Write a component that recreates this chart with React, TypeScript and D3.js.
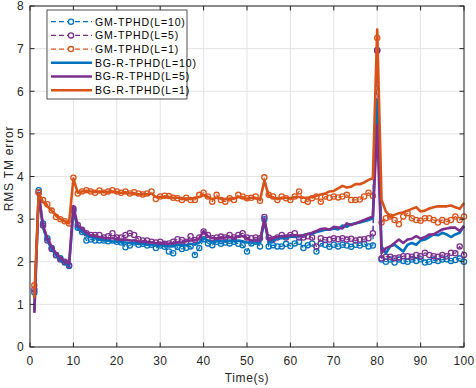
import React from "react";
import * as d3 from "d3";

// time axis 1..100 s, one value per second
const xTicks = [0, 10, 20, 30, 40, 50, 60, 70, 80, 90, 100];
const yTicks = [0, 1, 2, 3, 4, 5, 6, 7, 8];

const gmL10 = [
  1.28, 3.68, 2.9, 2.55, 2.32, 2.16, 2.08, 1.98, 1.9, 3.2,
  2.8, 2.7, 2.5, 2.52, 2.5, 2.5, 2.5, 2.48, 2.5, 2.47,
  2.45, 2.34, 2.38, 2.45, 2.4, 2.42, 2.38, 2.4, 2.32, 2.38,
  2.35, 2.24, 2.2, 2.35, 2.3, 2.33, 2.36, 2.16, 2.32, 2.53,
  2.43, 2.39, 2.47, 2.42, 2.45, 2.43, 2.47, 2.42, 2.39, 2.24,
  2.43, 2.47, 2.36, 3.0, 2.36, 2.39, 2.36, 2.36, 2.42, 2.37,
  2.43, 2.47, 2.32, 2.39, 2.43, 2.24, 2.43, 2.4, 2.35, 2.4,
  2.36, 2.4, 2.38, 2.35, 2.4, 2.38, 2.42, 2.36, 2.38, 6.97,
  2.05, 2.0, 2.05, 1.98, 2.05, 2.02, 2.0, 2.05, 2.02, 2.06,
  1.98, 2.0, 2.04, 2.02, 2.05, 2.06, 2.02, 2.04, 2.08, 2.0,
];

const gmL5 = [
  1.35, 3.62, 2.85, 2.5, 2.3, 2.15, 2.05, 2.0, 1.92, 3.25,
  2.86, 2.75, 2.67, 2.63, 2.63, 2.63, 2.57, 2.6, 2.67, 2.57,
  2.57, 2.63, 2.67, 2.63, 2.53, 2.5, 2.5, 2.47, 2.45, 2.47,
  2.42, 2.43, 2.47, 2.53, 2.51, 2.47, 2.6, 2.51, 2.57, 2.71,
  2.63, 2.55, 2.57, 2.59, 2.57, 2.63, 2.57, 2.63, 2.67, 2.57,
  2.55, 2.57, 2.55, 3.05, 2.57, 2.53, 2.57, 2.63, 2.57, 2.63,
  2.67, 2.57, 2.57, 2.6, 2.57, 2.36, 2.55, 2.51, 2.52, 2.55,
  2.53, 2.55, 2.52, 2.54, 2.5, 2.52, 2.53, 2.55, 2.67, 6.95,
  2.08, 2.12, 2.12, 2.08, 2.1, 2.13, 2.13, 2.12, 2.16, 2.13,
  2.21, 2.16, 2.13, 2.12, 2.16, 2.13, 2.21, 2.2, 2.36, 2.16,
];

const gmL1 = [
  1.45, 3.63, 3.45, 3.35, 3.2, 3.05, 3.0, 2.95, 2.9, 3.97,
  3.6, 3.65, 3.68, 3.65, 3.62, 3.67, 3.62, 3.65, 3.68, 3.65,
  3.62, 3.65, 3.6, 3.63, 3.6, 3.58, 3.6, 3.65, 3.47, 3.53,
  3.55, 3.54, 3.5, 3.49, 3.45, 3.5, 3.45, 3.45, 3.57, 3.62,
  3.53, 3.41, 3.57, 3.45, 3.41, 3.49, 3.45, 3.57, 3.53, 3.49,
  3.5, 3.53, 3.43, 3.98, 3.57, 3.53, 3.45, 3.53, 3.49, 3.45,
  3.53, 3.65, 3.45, 3.41, 3.49, 3.53, 3.41, 3.53, 3.5, 3.53,
  3.51, 3.53, 3.57, 3.45, 3.45, 3.46, 3.53, 3.62, 3.54, 7.25,
  2.92, 3.02, 3.06, 2.98, 2.88, 3.06, 3.14, 3.02, 2.98, 2.96,
  3.02, 3.02, 2.98, 2.92, 2.98, 2.94, 2.98, 3.06, 2.98, 3.06,
];

const bgL10 = [
  0.85, 3.6, 2.8, 2.5, 2.3, 2.15, 2.05, 1.98, 1.9, 3.2,
  2.78, 2.72, 2.62, 2.58, 2.55, 2.52, 2.5, 2.5, 2.48, 2.47,
  2.46, 2.45, 2.44, 2.44, 2.42, 2.42, 2.4, 2.4, 2.38, 2.38,
  2.38, 2.36, 2.36, 2.4, 2.4, 2.38, 2.42, 2.4, 2.45, 2.55,
  2.5, 2.45, 2.48, 2.48, 2.47, 2.5, 2.48, 2.5, 2.48, 2.45,
  2.45, 2.45, 2.45, 2.95, 2.45, 2.5, 2.55, 2.55, 2.55, 2.6,
  2.58, 2.6, 2.62, 2.65, 2.65, 2.7, 2.72, 2.75, 2.75, 2.78,
  2.76, 2.85, 2.82, 2.88, 2.9, 2.92, 2.95, 2.98, 3.02, 5.8,
  2.36, 2.2, 2.36, 2.4, 2.32, 2.24, 2.4, 2.44, 2.4, 2.5,
  2.52, 2.58, 2.64, 2.62, 2.68, 2.64, 2.58, 2.64, 2.68, 2.84,
];

const bgL5 = [
  0.8, 3.6, 2.85, 2.55, 2.35, 2.2, 2.08, 2.0, 1.95, 3.3,
  2.85, 2.78, 2.68, 2.62, 2.6, 2.58, 2.56, 2.55, 2.55, 2.53,
  2.52, 2.52, 2.5, 2.5, 2.48, 2.47, 2.46, 2.45, 2.44, 2.43,
  2.43, 2.42, 2.44, 2.45, 2.45, 2.48, 2.5, 2.5, 2.55, 2.72,
  2.6, 2.55, 2.55, 2.55, 2.57, 2.58, 2.55, 2.6, 2.6, 2.55,
  2.5, 2.5, 2.5, 3.0, 2.5, 2.55, 2.58, 2.6, 2.6, 2.62,
  2.62, 2.6, 2.62, 2.65, 2.68, 2.72, 2.77, 2.78, 2.75, 2.82,
  2.8, 2.78, 2.9, 2.86, 2.9, 2.94, 2.98, 3.02, 3.06, 5.2,
  2.2, 2.32, 2.36, 2.44, 2.52, 2.44, 2.52, 2.54, 2.6, 2.54,
  2.58, 2.64, 2.64, 2.7, 2.76, 2.78, 2.8, 2.8, 2.72, 2.84,
];

const bgL1 = [
  1.15, 3.6, 3.4, 3.3, 3.2, 3.1, 3.0, 2.95, 2.9, 3.95,
  3.62, 3.65, 3.66, 3.65, 3.64, 3.65, 3.63, 3.64, 3.65, 3.63,
  3.62, 3.62, 3.6, 3.6, 3.58, 3.58, 3.58, 3.6, 3.52, 3.52,
  3.52, 3.52, 3.5, 3.5, 3.48, 3.48, 3.48, 3.5, 3.52, 3.56,
  3.52, 3.47, 3.5, 3.48, 3.47, 3.48, 3.48, 3.52, 3.5, 3.48,
  3.5, 3.5, 3.45, 3.9, 3.55, 3.5, 3.48, 3.5, 3.5, 3.48,
  3.52, 3.52, 3.5, 3.5, 3.52, 3.55, 3.58, 3.6, 3.65, 3.66,
  3.72, 3.78, 3.74, 3.76, 3.82, 3.82, 3.86, 3.92, 3.96, 7.45,
  3.45, 3.18, 3.06, 3.1, 3.14, 3.16, 3.2, 3.24, 3.28, 3.18,
  3.2, 3.25, 3.28, 3.3, 3.3, 3.3, 3.32, 3.28, 3.24, 3.38,
];

const BLUE = "#0072BD";
const PURPLE = "#7E2F8E";
const ORANGE = "#D95319";

const series = [
  { name: "GM-TPHD(L=10)", values: gmL10, color: BLUE, gm: true },
  { name: "GM-TPHD(L=5)", values: gmL5, color: PURPLE, gm: true },
  { name: "GM-TPHD(L=1)", values: gmL1, color: ORANGE, gm: true },
  { name: "BG-R-TPHD(L=10)", values: bgL10, color: BLUE, gm: false },
  { name: "BG-R-TPHD(L=5)", values: bgL5, color: PURPLE, gm: false },
  { name: "BG-R-TPHD(L=1)", values: bgL1, color: ORANGE, gm: false },
];

const FONT = "'Liberation Sans', Arial, Helvetica, sans-serif";
const AXIS = "#262626";

export default function App() {
  const width = 476;
  const height = 388;
  const margin = { top: 6, right: 12, bottom: 41, left: 30 };

  const x = d3
    .scaleLinear()
    .domain([0, 100])
    .range([margin.left, width - margin.right]);
  const y = d3
    .scaleLinear()
    .domain([0, 8])
    .range([height - margin.bottom, margin.top]);

  const line = d3
    .line<number>()
    .x((d, i) => x(i + 1))
    .y((d) => y(d));

  const x0 = x(0);
  const x1 = x(100);
  const y0 = y(0);
  const y1 = y(8);
  const tick = 4.5;

  const leg = { x: 47, y: 10, w: 140, h: 89, row: 13.7 };

  return (
    <svg
      width={width}
      height={height}
      style={{ position: "absolute", left: 0, top: 0, background: "#fff" }}
      fontFamily={FONT}
    >
      <rect x={0} y={0} width={width} height={height} fill="#fff" />

      {/* grid */}
      <g stroke="#e3e3e3" strokeWidth={1}>
        {xTicks.map((t) => (
          <line key={"gx" + t} x1={x(t)} x2={x(t)} y1={y0} y2={y1} />
        ))}
        {yTicks.map((t) => (
          <line key={"gy" + t} x1={x0} x2={x1} y1={y(t)} y2={y(t)} />
        ))}
      </g>

      {/* data */}
      {series.map((s) => (
        <g key={s.name}>
          <path
            d={line(s.values) || ""}
            fill="none"
            stroke={s.color}
            strokeWidth={s.gm ? 1.2 : 2.6}
            strokeDasharray={s.gm ? "5,3" : undefined}
            strokeLinejoin="round"
          />
          {s.gm &&
            s.values.map((v, i) => (
              <circle
                key={i}
                cx={x(i + 1)}
                cy={y(v)}
                r={2.6}
                fill="none"
                stroke={s.color}
                strokeWidth={1.3}
              />
            ))}
        </g>
      ))}

      {/* axes box with inward ticks */}
      <g stroke={AXIS} strokeWidth={1} fill="none">
        <rect x={x0} y={y1} width={x1 - x0} height={y0 - y1} />
        {xTicks.map((t) => (
          <g key={"tx" + t}>
            <line x1={x(t)} x2={x(t)} y1={y0} y2={y0 - tick} />
            <line x1={x(t)} x2={x(t)} y1={y1} y2={y1 + tick} />
          </g>
        ))}
        {yTicks.map((t) => (
          <g key={"ty" + t}>
            <line x1={x0} x2={x0 + tick} y1={y(t)} y2={y(t)} />
            <line x1={x1} x2={x1 - tick} y1={y(t)} y2={y(t)} />
          </g>
        ))}
      </g>

      {/* tick labels */}
      <g fontSize={12} fill={AXIS} letterSpacing={0.3}>
        {xTicks.map((t) => (
          <text key={"lx" + t} x={x(t)} y={y0 + 18} textAnchor="middle">
            {t}
          </text>
        ))}
        {yTicks.map((t) => (
          <text key={"ly" + t} x={x0 - 6} y={y(t) + 4.3} textAnchor="end">
            {t}
          </text>
        ))}
      </g>

      <text
        x={(x0 + x1) / 2}
        y={y0 + 35}
        textAnchor="middle"
        fontSize={12}
        fill={AXIS}
        letterSpacing={0.6}
      >
        Time(s)
      </text>
      <text
        transform={`translate(13,${(y0 + y1) / 2 - 8}) rotate(-90)`}
        textAnchor="middle"
        fontSize={12}
        fill={AXIS}
        letterSpacing={0.8}
      >
        RMS TM error
      </text>

      {/* legend */}
      <g>
        <rect
          x={leg.x}
          y={leg.y}
          width={leg.w}
          height={leg.h}
          fill="#fff"
          stroke={AXIS}
          strokeWidth={0.8}
        />
        {series.map((s, i) => {
          const cy = leg.y + 11.7 + i * leg.row;
          return (
            <g key={"lg" + s.name}>
              <line
                x1={leg.x + 4}
                x2={leg.x + 45}
                y1={cy}
                y2={cy}
                stroke={s.color}
                strokeWidth={s.gm ? 1.2 : 2.6}
                strokeDasharray={s.gm ? "5,3" : undefined}
              />
              {s.gm && (
                <circle
                  cx={leg.x + 24}
                  cy={cy}
                  r={2.6}
                  fill="#fff"
                  stroke={s.color}
                  strokeWidth={1.3}
                />
              )}
              <text
                x={leg.x + 48}
                y={cy + 3.8}
                fontSize={10.5}
                fill="#000"
                letterSpacing={0.85}
              >
                {s.name}
              </text>
            </g>
          );
        })}
      </g>
    </svg>
  );
}
